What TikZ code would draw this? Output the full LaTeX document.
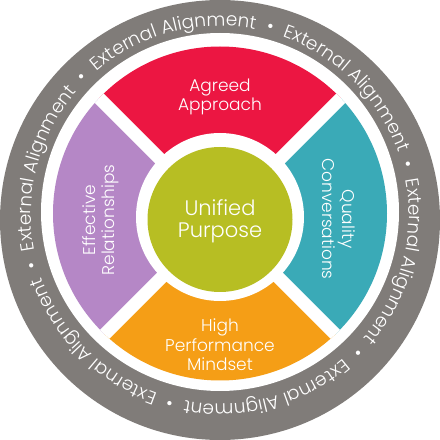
\documentclass[tikz,border=0pt]{standalone}
\usepackage{fontspec}
\setmainfont{Poppins}[UprightFont=* Light]
\usetikzlibrary{decorations.text,calc}
\definecolor{ringgray}{RGB}{128,124,121}
\definecolor{segred}{RGB}{236,22,66}
\definecolor{segteal}{RGB}{58,170,183}
\definecolor{segorange}{RGB}{245,158,22}
\definecolor{segpurple}{RGB}{181,135,198}
\definecolor{segcenter}{RGB}{183,190,35}
\newcommand{\ringfont}{\fontsize{18.5}{20}\selectfont}
\begin{document}
\begin{tikzpicture}[x=1pt,y=1pt,
  seglabel/.style={text=white, align=center, inner sep=0pt, font=\fontsize{17}{19.5}\selectfont},
  centerlabel/.style={text=white, align=center, inner sep=0pt, font=\fontsize{21}{22}\selectfont}]
\useasboundingbox (0,0) rectangle (440,440);
% outer ring
\fill[ringgray] (220,220) circle (220);
\fill[white] (220,228) circle (179);
% segments
\begin{scope}
  \clip (220,226.5) circle (167);
  \fill[segred] (220,221) -- (-20,461) -- (460,461) -- cycle;
  \fill[segteal] (220,221) -- (460,461) -- (460,-19) -- cycle;
  \fill[segorange] (220,221) -- (460,-19) -- (-20,-19) -- cycle;
  \fill[segpurple] (220,221) -- (-20,-19) -- (-20,461) -- cycle;
  \draw[white, line width=13] (-20,-19) -- (460,461);
  \draw[white, line width=13] (-20,461) -- (460,-19);
\end{scope}
\fill[white] (220,223) circle (84);
\fill[segcenter] (220,220.5) circle (72.5);
% ring text
\coordinate (tc) at (220,225);
\foreach \a/\n in {135/1,75/2,15/3,-45/4,-105/5,-165/6} {
  \pgfmathsetmacro\e{\a-60}
  \path[decorate, decoration={text along path, text align=center, text color=white,
      text={|\ringfont|External Alignment}}]
    ($(tc)+(\a:189)$) arc[start angle=\a, end angle=\e, radius=189];
  \node[rotate=\a-90, anchor=base, text=white, font=\ringfont, inner sep=0pt] (bullet\n) at ($(tc)+(\a:189)$) {•};
}
% labels
\node[seglabel] (agreed) at (220,343) {Agreed\\Approach};
\node[seglabel, rotate=-90] (quality) at (339,221) {Quality\\Conversations};
\node[seglabel] (high) at (220,95) {High\\Performance\\Mindset};
\node[seglabel, rotate=90] (effective) at (101,220) {Effective\\Relationships};
\node[centerlabel] (unified) at (220,219) {Unified\\Purpose};
\end{tikzpicture}
\end{document}
